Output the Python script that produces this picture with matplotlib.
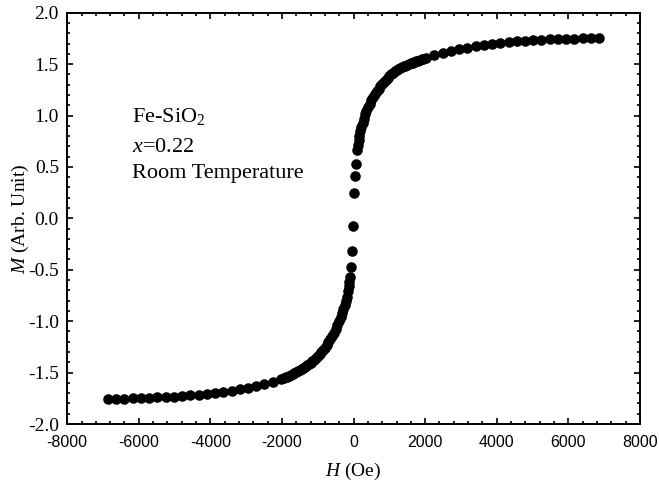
import matplotlib
matplotlib.use("Agg")
import matplotlib.pyplot as plt
from matplotlib.ticker import MultipleLocator, FormatStrFormatter

plt.rcParams['font.family'] = ['Liberation Serif', 'DejaVu Serif']
plt.rcParams['mathtext.fontset'] = 'custom'
plt.rcParams['mathtext.rm'] = 'Liberation Serif'
plt.rcParams['mathtext.it'] = 'Liberation Serif:italic'
plt.rcParams['axes.unicode_minus'] = False

# field values (Oe)
H = [-6860, -6630, -6400, -6170, -5940, -5710, -5480, -5250, -5020, -4790,
     -4560, -4330, -4100, -3870, -3640, -3410, -3180, -2950, -2720, -2490,
     -2260, -2030, -1900, -1800, -1700, -1600, -1500, -1400, -1300, -1200,
     -1100, -1000, -900, -800, -700, -600, -500, -400, -320, -250,
     -190, -140, -100, -60, -40, -10, 20, 45, 70, 100,
     140, 190, 250, 320, 400, 500, 600, 700, 800, 900,
     1000, 1100, 1200, 1300, 1400, 1500, 1600, 1700, 1800, 1900,
     2030, 2260, 2490, 2720, 2950, 3180, 3410, 3640, 3870, 4100,
     4330, 4560, 4790, 5020, 5250, 5480, 5710, 5940, 6170, 6400,
     6630, 6860]
# magnetization (arb. unit)
M = [-1.755, -1.754, -1.752, -1.750, -1.748, -1.745, -1.742, -1.738, -1.733, -1.728,
     -1.722, -1.715, -1.707, -1.698, -1.688, -1.677, -1.664, -1.650, -1.633, -1.613,
     -1.590, -1.563, -1.545, -1.530, -1.513, -1.495, -1.475, -1.453, -1.430, -1.403,
     -1.373, -1.340, -1.302, -1.258, -1.207, -1.148, -1.078, -0.995, -0.92, -0.84,
     -0.76, -0.66, -0.57, -0.47, -0.32, -0.07, 0.25, 0.41, 0.53, 0.66,
     0.76, 0.85, 0.93, 1.01, 1.08, 1.15, 1.21, 1.26, 1.31, 1.35,
     1.385, 1.415, 1.44, 1.46, 1.478, 1.493, 1.507, 1.52, 1.532, 1.545,
     1.56, 1.585, 1.607, 1.627, 1.645, 1.66, 1.673, 1.685, 1.695, 1.705,
     1.713, 1.72, 1.726, 1.731, 1.736, 1.740, 1.743, 1.746, 1.748, 1.750,
     1.751, 1.752]

# extra points where the curve bends (dense part of the band)
H_knee = [-1950, -1850, -1750, -1650, -1550, -1450, -1350, -1250, -1150, -1050,
          -950, -850, -750, -650, -550, -450, -360, -285, -220, -165, -120,
          120, 165, 220, 285, 360, 450, 550, 650, 750, 850,
          950, 1050, 1150, 1250, 1350, 1450, 1550, 1650, 1750, 1850, 1950]
M_knee = [-1.553, -1.538, -1.522, -1.504, -1.485, -1.464, -1.442, -1.417, -1.388, -1.357,
          -1.322, -1.281, -1.233, -1.178, -1.114, -1.038, -0.958, -0.88, -0.80, -0.71, -0.615,
          0.71, 0.805, 0.89, 0.97, 1.045, 1.115, 1.18, 1.235, 1.285, 1.33,
          1.368, 1.40, 1.428, 1.45, 1.469, 1.486, 1.50, 1.513, 1.526, 1.538, 1.55]

fig = plt.figure(figsize=(6.59, 4.95), dpi=100)
ax = fig.add_axes([0.102, 0.1434, 0.869, 0.831])

ax.plot(H, M, 'o', color='black', markersize=7.6, markeredgewidth=0)
ax.plot(H_knee, M_knee, 'o', color='black', markersize=7.6, markeredgewidth=0)

ax.set_xlim(-8000, 8000)
ax.set_ylim(-2.0, 2.0)
ax.xaxis.set_major_locator(MultipleLocator(2000))
ax.xaxis.set_minor_locator(MultipleLocator(400))
ax.yaxis.set_major_locator(MultipleLocator(0.5))
ax.yaxis.set_minor_locator(MultipleLocator(0.1))
ax.yaxis.set_major_formatter(FormatStrFormatter('%.1f'))

ax.tick_params(which='both', direction='in', top=True, right=True, width=1.2, colors='black')
ax.tick_params(which='major', length=4)
ax.tick_params(which='minor', length=2)
ax.tick_params(axis='y', labelsize=14, pad=6)
ax.tick_params(axis='x', labelsize=11.5, pad=8)
for lab in ax.get_xticklabels():
    lab.set_family('Liberation Sans')
for s in ax.spines.values():
    s.set_linewidth(1.4)

ax.set_xlabel('$H$ (Oe)', fontsize=14, labelpad=8)
ax.set_ylabel('$M$ (Arb. Unit)', fontsize=14, labelpad=-2)

ax.text(0.113, 0.747, 'Fe-SiO$_2$', transform=ax.transAxes, fontsize=16, va='center')
ax.text(0.113, 0.672, '$x$=0.22', transform=ax.transAxes, fontsize=16, va='center')
ax.text(0.113, 0.608, 'Room Temperature', transform=ax.transAxes, fontsize=16, va='center')

fig.savefig('out.png', dpi=100)
